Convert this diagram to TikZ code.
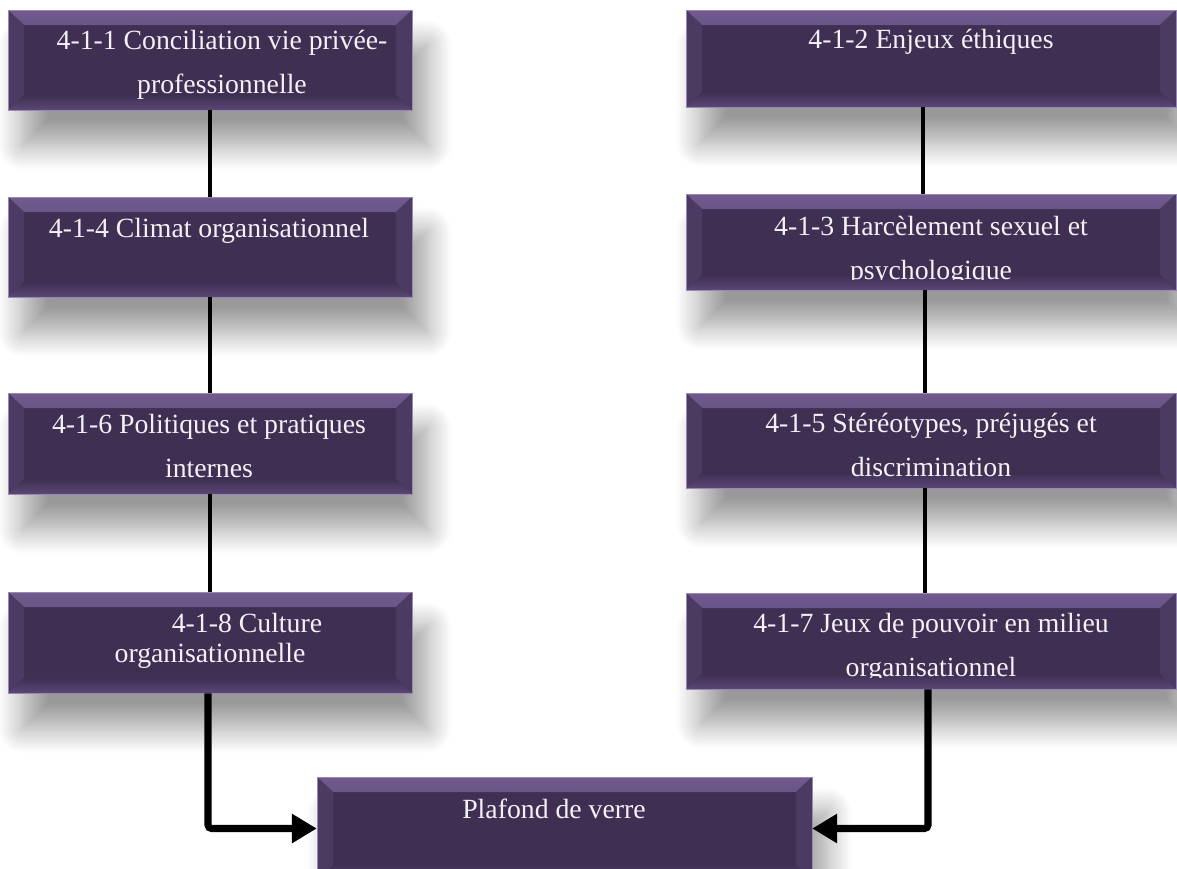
\documentclass[tikz,border=0pt]{standalone}
\usepackage{fontspec}
\setmainfont{Liberation Serif}
\usetikzlibrary{arrows.meta, positioning, shadows.blur}

\definecolor{boxfill}{HTML}{3F2F53}
\definecolor{bevtop}{HTML}{705A8E}
\definecolor{bevtopdark}{HTML}{4C3B63}
\definecolor{bevside}{HTML}{4B3A61}
\definecolor{bevbot}{HTML}{5A4774}
\definecolor{boxedge}{HTML}{9A88B4}
\definecolor{boxtextcol}{HTML}{F4F0F7}

\begin{document}
\begin{tikzpicture}[
    x=0.02cm, y=-0.02cm,
    bevelbox/.style={rectangle, fill=boxfill, draw=boxedge, line width=0.3pt, inner sep=0pt,
        blur shadow={shadow xshift=0.3cm, shadow yshift=-0.7cm, shadow blur radius=0.5cm,
                     shadow blur steps=14, shadow opacity=40},
        path picture={
            \shade[top color=bevtop, bottom color=bevtopdark]
                (path picture bounding box.north west) -- (path picture bounding box.north east)
                -- ([shift={(-0.32cm,-0.3cm)}]path picture bounding box.north east)
                -- ([shift={(0.32cm,-0.3cm)}]path picture bounding box.north west) -- cycle;
            \fill[bevside]
                (path picture bounding box.north west) -- ([shift={(0.32cm,-0.3cm)}]path picture bounding box.north west)
                -- ([shift={(0.32cm,0.3cm)}]path picture bounding box.south west) -- (path picture bounding box.south west) -- cycle;
            \fill[bevside]
                (path picture bounding box.north east) -- ([shift={(-0.32cm,-0.3cm)}]path picture bounding box.north east)
                -- ([shift={(-0.32cm,0.3cm)}]path picture bounding box.south east) -- (path picture bounding box.south east) -- cycle;
            \shade[top color=boxfill, bottom color=bevbot]
                (path picture bounding box.south west) -- (path picture bounding box.south east)
                -- ([shift={(-0.32cm,0.3cm)}]path picture bounding box.south east)
                -- ([shift={(0.32cm,0.3cm)}]path picture bounding box.south west) -- cycle;
        }},
    boxtext/.style={text=boxtextcol, font=\fontsize{15.8}{25}\selectfont, align=center, anchor=base, inner sep=0pt},
    link/.style={draw=black, line width=2.2pt},
    flow/.style={draw=black, line width=4pt, rounded corners=2pt, -{Triangle[length=0.5cm, width=0.56cm]}}
]
    \useasboundingbox (0,0) rectangle (1177,869);

    % --- Left column ---
    \node[bevelbox, minimum width=8.08cm, minimum height=2.0cm] (c411) at (210,60) {};
    \node[bevelbox, minimum width=8.08cm, minimum height=2.0cm] (c414) at (210,247) {};
    \node[bevelbox, minimum width=8.08cm, minimum height=2.02cm] (c416) at (210,443.5) {};
    \node[bevelbox, minimum width=8.08cm, minimum height=2.02cm] (c418) at (210,642.5) {};

    % --- Right column ---
    \node[bevelbox, minimum width=9.8cm, minimum height=1.94cm] (c412) at (931,58.5) {};
    \node[bevelbox, minimum width=9.8cm, minimum height=1.92cm] (c413) at (931,242) {};
    \node[bevelbox, minimum width=9.8cm, minimum height=1.9cm] (c415) at (931,440.5) {};
    \node[bevelbox, minimum width=9.8cm, minimum height=1.92cm] (c417) at (931,641) {};

    % --- Bottom box ---
    \node[bevelbox, minimum width=9.9cm, minimum height=2.06cm] (plafond) at (564.5,828.5) {};

    % --- Texts (base = last line) ---
    \node[boxtext] (t411) at (222,93) {4-1-1 Conciliation vie privée-\\professionnelle};
    \node[boxtext] (t414) at (209,237) {4-1-4 Climat organisationnel};
    \node[boxtext] (t416) at (209,477) {4-1-6 Politiques et pratiques\\internes};
    \node[boxtext, font=\fontsize{15.8}{17}\selectfont] (t418) at (210,662)
        {\hspace*{1.48cm}4-1-8 Culture\\organisationnelle};
    \node[boxtext] (t412) at (931,48) {4-1-2 Enjeux éthiques};
    \begin{scope}
        \clip ([yshift=0.22cm]c413.south west) rectangle (c413.north east);
        \node[boxtext] (t413) at (931,279) {4-1-3 Harcèlement sexuel et\\psychologique};
    \end{scope}
    \begin{scope}
        \clip ([yshift=0.22cm]c415.south west) rectangle (c415.north east);
        \node[boxtext] (t415) at (931,476) {4-1-5 Stéréotypes, préjugés et\\discrimination};
    \end{scope}
    \begin{scope}
        \clip ([yshift=0.24cm]c417.south west) rectangle (c417.north east);
        \node[boxtext] (t417) at (931,676) {4-1-7 Jeux de pouvoir en milieu\\organisationnel};
    \end{scope}
    \node[boxtext] (tplafond) at (554,818) {Plafond de verre};

    % --- Connectors ---
    \draw[link] (c411) -- (c414);
    \draw[link] (c414) -- (c416);
    \draw[link] (c416) -- (c418);
    \draw[link] ([xshift=-0.16cm]c412.south) -- ([xshift=-0.16cm]c413.north);
    \draw[link] ([xshift=-0.12cm]c413.south) -- ([xshift=-0.12cm]c415.north);
    \draw[link] ([xshift=-0.12cm]c415.south) -- ([xshift=-0.12cm]c417.north);
    \draw[flow] ([xshift=-0.04cm]c418.south) |- (plafond.west);
    \draw[flow] ([xshift=-0.06cm]c417.south) |- (plafond.east);

\end{tikzpicture}
\end{document}
